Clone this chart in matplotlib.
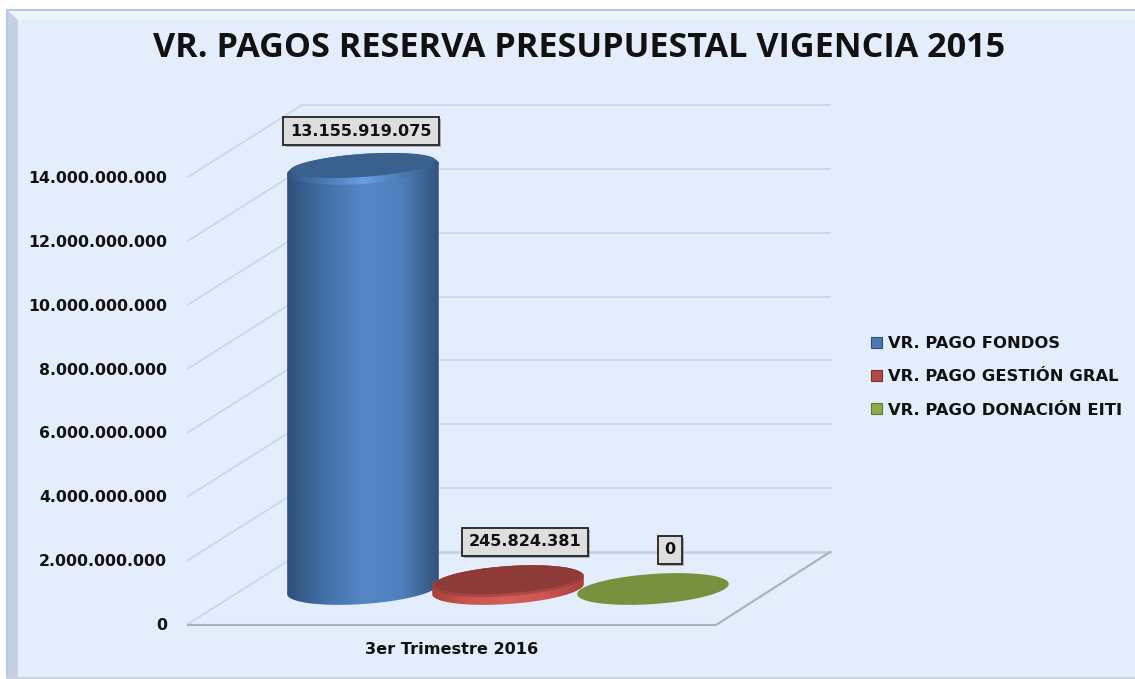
#!/usr/bin/env python
# -*- coding: utf-8 -*-

import numpy as np
import matplotlib
matplotlib.use("Agg")
import matplotlib.pyplot as plt
import matplotlib.patheffects as pe
from matplotlib.colors import LinearSegmentedColormap
from matplotlib.patches import PathPatch, Patch, Polygon, Rectangle
from matplotlib.path import Path

category = "3er Trimestre 2016"
series_names = ["VR. PAGO FONDOS", "VR. PAGO GESTIÓN GRAL", "VR. PAGO DONACIÓN EITI"]
series_values = [13155919075, 245824381, 0]
y_ticks = [0, 2000000000, 4000000000, 6000000000, 8000000000,
           10000000000, 12000000000, 14000000000]
title = "VR. PAGOS RESERVA PRESUPUESTAL VIGENCIA 2015"

W, H = 1135, 679
fig = plt.figure(figsize=(W / 100, H / 100), dpi=100, facecolor="white")

# Panel behind everything, in pixels
bg = fig.add_axes([0, 0, 1, 1], zorder=0)
bg.set_xlim(0, W)
bg.set_ylim(H, 0)
bg.axis("off")
bg.add_patch(Rectangle((7, 10), W, 668, fc="#e3edfb", ec="#a9c4ea", lw=1.2))
bg.add_patch(Polygon([(8, 11), (W, 11), (W, 20), (18, 20)], fc="#eff4fb", ec="none"))
bg.add_patch(Polygon([(8, 11), (18, 20), (18, 677), (8, 677)], fc="#c5d1e2", ec="none"))
bg.plot([8, W], [677.5, 677.5], color="#c9d2de", lw=1.5)

# Main axes: x in pixels, y in chart units
y0_px, y14_px = 624.0, 177.0
val_per_px = 14e9 / (y0_px - y14_px)
ax = fig.add_axes([180 / W, 0, 1 - 180 / W, 1], zorder=1)
ax.patch.set_visible(False)
for s in ax.spines.values():
    s.set_visible(False)


def px(n):
    return n * val_per_px


# Walls and floor
depth = px(72)
for v in y_ticks[1:]:
    ax.plot([188, 302], [v, v + depth], color="#c6d7ec", lw=1.2, zorder=1)
    ax.plot([302, 830], [v + depth] * 2, color="#c6d7ec", lw=1.2, zorder=1)
ax.plot([188, 302], [0, depth], color="#c6d7ec", lw=1.2, zorder=1)
ax.plot([302, 830], [depth, depth], color="#c3cfdc", lw=1.8, zorder=1)
ax.plot([188, 716, 830], [-px(1), -px(1), depth], color="#a9b1bb", lw=1.5, zorder=1)

A, B, TILT = 76.0, 15.0, 4.0


def ellipse(cx, v, a=A, b=B, start=0.0, stop=2 * np.pi, n=120):
    t = np.linspace(start, stop, n)
    phi = np.radians(TILT)
    x = cx + a * np.cos(t) * np.cos(phi) - b * np.sin(t) * np.sin(phi)
    y = v + px(a * np.cos(t) * np.sin(phi) + b * np.sin(t) * np.cos(phi))
    return np.column_stack([x, y])


def cylinder(cx, value, colors, top_color, rim_colors, z, inset):
    base = px(35)
    top = base + value
    phi = np.radians(TILT)
    t_edge = np.arctan2(-B * np.sin(phi), A * np.cos(phi))
    lower = ellipse(cx, base, start=t_edge + np.pi, stop=t_edge + 2 * np.pi)
    upper = ellipse(cx, top, start=t_edge, stop=t_edge + np.pi)
    verts = np.vstack([lower, upper, lower[:1]])
    clip = PathPatch(Path(verts), fc="none", ec="none", transform=ax.transData, zorder=z)
    ax.add_patch(clip)
    cmap = LinearSegmentedColormap.from_list("cyl", colors)
    grad = np.linspace(0, 1, 200).reshape(1, -1)
    ext = [cx - 78, cx + 78, base - px(20), top + px(20)]
    im = ax.imshow(grad, cmap=cmap, aspect="auto", extent=ext,
                   interpolation="bilinear", zorder=z)
    im.set_clip_path(clip)
    # bevel round the lid
    lid = Polygon(ellipse(cx, top), fc="none", ec="none", transform=ax.transData, zorder=z + 0.1)
    ax.add_patch(lid)
    im2 = ax.imshow(grad, cmap=LinearSegmentedColormap.from_list("rim", rim_colors),
                    aspect="auto", extent=ext, interpolation="bilinear", zorder=z + 0.1)
    im2.set_clip_path(lid)
    ax.add_patch(Polygon(ellipse(cx, top + px(inset), a=A - 3, b=B - inset), fc=top_color,
                         ec="none", zorder=z + 0.2))


bar_x = [363, 508, 653]
cylinder(bar_x[0], series_values[0],
         ["#2c4f78", "#426fa5", "#5587c8", "#4f80bd", "#2f5178"],
         "#3a608e", ["#2f5580", "#4a7ab4", "#6a9fdf", "#4a7ab4", "#2f5580"], 3, 3.5)
cylinder(bar_x[1], series_values[1],
         ["#a8403c", "#cc5550", "#d2605a", "#cc5550", "#a8403c"],
         "#8e3a38", ["#96403c", "#a84642", "#b04a46", "#a84642", "#96403c"], 4, 1.5)
ax.add_patch(Polygon(ellipse(bar_x[2], px(35) + series_values[2]), fc="#77913f", ec="none", zorder=5))

# Value labels
label_pos = [(361, 131), (525, 542), (670, 550)]
for (lx, ly), v in zip(label_pos, series_values):
    t = ax.text(lx, (y0_px - ly) * val_per_px, "{:,}".format(v).replace(",", "."),
                ha="center", va="center", fontsize=11.6, fontweight="bold", color="#111111",
                family="DejaVu Sans", zorder=8,
                bbox=dict(boxstyle="square,pad=0.42", fc="#dedede", ec="#222222", lw=1.3))
    t.get_bbox_patch().set_path_effects([pe.SimplePatchShadow(offset=(1.5, -1.5), alpha=0.35),
                                         pe.Normal()])

ax.text(452, (y0_px - 649) * val_per_px, category, ha="center", va="center",
        fontsize=11.6, fontweight="bold", color="#111111", family="DejaVu Sans")

ax.set_yticks(y_ticks)
ax.set_yticklabels(["{:,}".format(v).replace(",", ".") for v in y_ticks],
                   fontsize=11.3, fontweight="bold", color="#111111", family="DejaVu Sans")
ax.tick_params(axis="y", length=0, pad=9.4)
ax.set_xticks([])
ax.set_xlim(180, W)
ax.set_ylim((y0_px - H) * val_per_px, y0_px * val_per_px)

# Legend
handles = [Patch(fc=c, ec=e, lw=0.8, label=n) for c, e, n in
           zip(["#4a78b0", "#b04a46", "#8cab4c"], ["#2f5178", "#7c302e", "#5f7a30"], series_names)]
leg = ax.legend(handles=handles, loc="center left", bbox_to_anchor=(871 / W, 1 - 377 / H),
                bbox_transform=fig.transFigure, frameon=False, handlelength=0.68, handleheight=0.68,
                handletextpad=0.36, labelspacing=1.1, borderpad=0, borderaxespad=0,
                prop={"family": "DejaVu Sans", "weight": "bold", "size": 11.8})
for t in leg.get_texts():
    t.set_color("#111111")

fig.text(579 / W, 1 - 48 / H, title, ha="center", va="center", fontsize=24.6,
         fontweight="bold", color="#111111", family="Open Sans")

fig.savefig("out.png", dpi=100)
